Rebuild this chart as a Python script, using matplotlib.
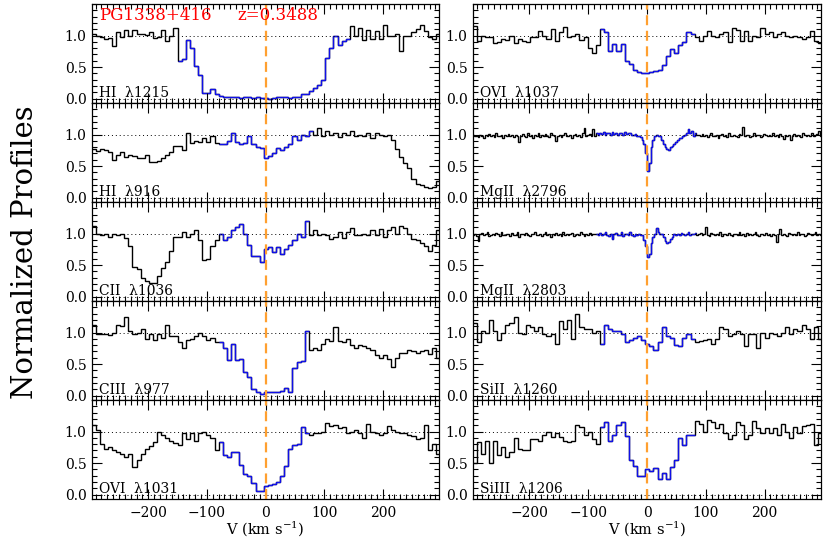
import numpy as np
import matplotlib
matplotlib.use("Agg")
import matplotlib.pyplot as plt
import matplotlib.transforms as mtransforms
from matplotlib.ticker import MultipleLocator

plt.rcParams['font.family'] = ['DejaVu Serif']
plt.rcParams['mathtext.fontset'] = 'dejavuserif'

# velocity binning (km/s): first bin edge and bin width
v_start = -297.0
dv_cos = 7.0     # UV spectra
dv_mg = 3.0      # optical MgII spectra

# normalized flux, one value per bin
hi1215 = [1.03, 0.99, 0.97, 0.94, 0.96, 0.83, 1.05, 0.98, 1.08, 1.00, 1.08, 1.02, 1.03, 1.01, 1.05, 0.96, 0.98, 1.08, 0.92, 1.00, 1.12,
          0.60, 0.62, 0.93, 0.80, 0.52, 0.38, 0.09, 0.09, 0.15, 0.08, 0.04, 0.03, 0.02, 0.02, 0.02, 0.01, 0.02, 0.02, 0.01, 0.02, 0.01, 0.01,
          0.00, 0.01, 0.02, 0.03, 0.03, 0.01, 0.02, 0.02, 0.07, 0.08, 0.12, 0.17, 0.22, 0.30, 0.65, 0.80, 1.00, 0.85, 0.91, 0.95,
          1.15, 1.00, 1.12, 0.93, 1.08, 0.95, 1.07, 0.95, 1.17, 1.00, 1.00, 1.02, 0.75, 1.00, 1.00, 1.05, 1.10, 1.17, 1.07, 0.98, 0.95, 1.02]
hi916 = [0.77, 0.74, 0.77, 0.75, 0.72, 0.60, 0.68, 0.72, 0.65, 0.67,
         0.66, 0.63, 0.62, 0.68, 0.57, 0.56, 0.58, 0.62, 0.67, 0.72,
         0.82, 0.82, 0.75, 1.02, 0.87, 0.90, 0.88, 0.95, 0.88, 0.97,
         0.87, 0.85, 0.85, 0.90, 1.02, 0.88, 0.85, 0.87, 0.97, 0.85,
         0.80, 0.78, 0.62, 0.66, 0.70, 0.78, 0.75, 0.80, 0.85, 0.98,
         0.92, 1.00, 0.98, 1.05, 1.00, 1.10, 0.98, 1.05, 1.00, 1.03,
         0.96, 1.02, 1.00, 1.05, 0.97, 1.00, 0.98, 1.03, 0.95, 1.02,
         1.00, 0.97, 1.00, 0.92, 0.77, 0.65, 0.55, 0.47, 0.30, 0.22,
         0.20, 0.17, 0.15, 0.17, 0.27]
cii1036 = [1.12, 1.00, 0.98, 1.00, 0.95, 1.00, 0.98, 1.00, 0.93, 0.80,
           0.47, 0.43, 0.30, 0.25, 0.22, 0.22, 0.32, 0.45, 0.55, 0.72,
           0.94, 0.95, 1.03, 0.95, 1.00, 1.05, 0.90, 0.58, 0.60, 0.80,
           0.90, 1.00, 0.90, 0.95, 1.05, 1.10, 1.15, 1.00, 0.82, 0.65,
           0.65, 0.55, 0.75, 0.78, 0.70, 0.78, 0.68, 0.75, 0.82, 0.90,
           1.00, 0.95, 1.20, 0.97, 1.05, 0.98, 1.00, 0.98, 0.92, 0.95,
           1.03, 0.93, 1.02, 1.08, 0.97, 0.97, 1.00, 0.97, 1.05, 0.98,
           1.07, 0.95, 1.05, 1.10, 1.00, 1.12, 1.08, 1.00, 0.92, 0.90,
           0.85, 0.80, 0.72, 0.82, 1.05]
ciii977 = [1.12, 0.97, 0.97, 0.98, 0.96, 1.00, 1.12, 1.10, 1.25, 1.02,
           0.98, 1.00, 1.05, 0.90, 0.98, 0.88, 0.97, 0.92, 1.12, 0.95,
           0.95, 0.85, 0.75, 0.88, 0.90, 0.95, 1.00, 0.95, 0.88, 0.92,
           0.85, 0.85, 0.75, 0.57, 0.82, 0.57, 0.58, 0.38, 0.30, 0.10,
           0.06, 0.03, 0.06, 0.05, 0.05, 0.05, 0.08, 0.12, 0.06, 0.43,
           0.53, 0.55, 1.02, 0.72, 0.75, 0.73, 0.82, 0.90, 0.87, 1.08,
           0.87, 0.85, 0.90, 0.80, 0.75, 0.80, 0.78, 0.75, 0.73, 0.65,
           0.60, 0.65, 0.58, 0.45, 0.60, 0.68, 0.68, 0.72, 0.70, 0.67,
           0.70, 0.72, 0.66, 0.75, 0.60]
ovi1031 = [1.10, 1.02, 0.80, 0.72, 0.75, 0.70, 0.67, 0.65, 0.60, 0.65,
           0.43, 0.55, 0.65, 0.72, 0.77, 0.83, 1.00, 0.95, 0.90, 0.85,
           0.82, 0.78, 0.97, 0.88, 0.97, 0.85, 0.98, 1.00, 0.95, 0.90,
           0.70, 0.83, 0.63, 0.60, 0.67, 0.67, 0.47, 0.32, 0.30, 0.18,
           0.05, 0.05, 0.13, 0.15, 0.17, 0.20, 0.30, 0.45, 0.72, 0.78,
           0.80, 1.07, 0.97, 0.95, 0.97, 0.98, 1.00, 1.13, 1.08, 1.10,
           1.05, 1.07, 0.97, 1.00, 1.02, 0.97, 0.90, 1.12, 1.00, 0.97,
           0.95, 0.98, 1.08, 1.02, 1.00, 0.98, 0.97, 0.95, 0.93, 0.88,
           0.90, 1.10, 0.70, 0.80, 0.65]
ovi1037 = [1.15, 0.92, 1.00, 0.97, 0.98, 0.88, 0.90, 0.95, 0.93, 1.00,
           0.88, 0.95, 0.92, 0.90, 0.97, 0.98, 1.07, 1.00, 0.95, 1.10,
           0.92, 1.05, 1.13, 0.98, 1.00, 1.03, 0.93, 0.97, 0.80, 0.73,
           0.85, 1.10, 1.05, 0.75, 0.87, 0.75, 0.87, 0.60, 0.55, 0.45,
           0.42, 0.40, 0.40, 0.42, 0.43, 0.45, 0.53, 0.68, 0.78, 0.72,
           0.85, 0.90, 1.05, 1.02, 0.97, 0.92, 1.00, 1.07, 1.00, 0.97,
           1.02, 1.05, 0.90, 1.12, 1.08, 0.92, 1.07, 0.92, 1.00, 0.98,
           1.12, 1.03, 1.05, 0.98, 1.02, 1.05, 1.00, 0.97, 1.00, 0.97,
           0.95, 0.97, 1.07, 0.92, 0.88]
mgii2796 = [0.99, 0.97, 0.98, 0.96, 1.00, 0.97, 0.95, 0.99, 0.98, 1.01, 0.97, 0.99, 0.96, 1.02, 0.98, 0.97, 1.00, 0.95, 0.99, 0.98,
            1.01, 0.97, 0.99, 0.96, 1.00, 0.98, 0.88, 0.97, 1.01, 0.98, 0.96, 1.02, 0.97, 0.99, 0.95, 1.00, 0.98, 1.03, 0.96, 0.99,
            0.97, 1.01, 0.98, 0.96, 1.02, 0.99, 0.97, 0.90, 0.98, 1.00, 0.96, 0.99, 1.03, 0.97, 0.98, 1.00, 0.95, 0.99, 1.01, 0.97,
            1.00, 0.96, 1.02, 1.10, 0.97, 0.99, 1.01, 0.98, 1.09, 0.98,
            1.02, 1.00, 1.03, 1.01, 1.04, 0.99, 1.02, 1.03, 1.00, 1.04, 1.01, 1.02, 0.99, 1.03, 1.02, 1.00, 1.04, 1.01, 1.03, 1.02, 1.00,
            0.99, 1.01, 0.98, 0.97, 0.96,
            0.92, 0.85, 0.70, 0.42, 0.55, 0.80, 0.92, 0.98, 1.00, 0.97, 0.98, 0.92, 0.85, 0.80, 0.77, 0.76,
            0.80, 0.82, 0.85, 0.88, 0.92, 0.95, 0.94, 0.97, 1.00, 1.03, 1.08, 1.02, 1.05, 0.98, 1.02, 1.00,
            0.99, 0.97, 1.01, 0.98, 1.00, 0.96, 0.99, 1.02, 0.97, 0.98, 1.00, 0.95, 0.99, 1.01, 0.97, 0.99, 0.96, 1.02, 0.98, 0.97,
            1.00, 0.98, 0.96, 1.01, 0.99, 1.12, 0.97, 0.99, 1.00, 0.96, 0.98, 1.02, 0.97, 0.99, 1.00, 0.96, 0.98, 1.01, 0.99, 0.97,
            1.00, 0.98, 1.02, 0.97, 0.99, 0.96, 1.01, 0.98, 0.93, 1.00, 0.97, 0.99, 0.92, 0.98, 1.01, 0.97, 1.00, 0.98, 0.96, 1.02,
            0.99, 0.97, 1.00, 0.98, 1.03, 0.97, 0.99, 1.01, 1.06, 0.98]
mgii2803 = [0.98, 1.00, 0.96, 0.88, 0.99, 1.01, 0.97, 0.99, 1.02, 0.96, 0.98, 1.00, 0.97, 1.01, 0.99, 0.96, 1.02, 0.98, 0.97, 1.00,
            0.99, 0.96, 1.01, 0.98, 0.97, 1.02, 0.95, 0.99, 1.00, 0.97, 1.01, 0.98, 0.96, 1.00, 0.99, 1.03, 0.97, 0.98, 1.00, 0.96,
            0.99, 1.02, 0.97, 0.99, 0.95, 1.00, 0.98, 1.01, 0.97, 0.99, 0.96, 1.02, 0.98, 1.00, 0.97, 0.99, 1.01, 0.96, 0.98, 1.00,
            0.97, 1.02, 0.99, 0.96, 1.00, 0.98, 1.01, 0.97, 0.99, 1.00,
            1.00, 0.98, 1.01, 0.97, 0.99, 1.02, 0.98, 0.96, 1.00, 0.92, 0.99, 1.01, 0.97, 0.98, 1.02, 0.96, 0.99, 1.00, 0.97, 1.03,
            0.98, 0.96, 1.00, 0.98, 0.99, 0.97,
            0.97, 0.90, 0.80, 0.62, 0.68, 0.85, 0.95, 1.00, 1.08, 1.02, 0.99, 1.00, 0.95, 0.88, 0.85, 0.87,
            0.92, 0.95, 0.99, 0.97, 1.00, 0.98, 1.01, 0.99, 0.97, 1.00, 1.02, 0.98, 1.00, 0.99, 1.01, 0.98,
            0.99, 1.01, 0.97, 1.00, 1.10, 0.98, 0.96, 1.01, 0.99, 0.97, 1.00, 0.98, 1.02, 0.96, 0.99, 1.00, 0.97, 1.01, 0.98, 0.96,
            1.00, 0.99, 0.97, 1.02, 0.98, 0.99, 0.96, 1.01, 0.98, 1.00, 0.97, 0.99, 1.02, 0.98, 0.96, 1.00, 0.99, 0.97, 1.01, 0.98,
            0.99, 0.96, 1.00, 0.98, 0.86, 0.99, 1.07, 0.97, 1.00, 0.98, 0.96, 1.01, 0.99, 0.97, 1.00, 0.98, 1.02, 0.97, 0.99, 1.00,
            0.96, 0.98, 1.01, 0.99, 0.97, 1.00, 1.02, 0.98, 0.99, 0.97]
sii1260 = [1.15, 0.85, 1.02, 1.00, 1.20, 1.02, 0.88, 1.00, 1.12, 1.15,
           1.25, 1.00, 0.98, 1.12, 1.08, 1.02, 1.08, 0.98, 0.95, 0.98,
           0.82, 1.18, 1.05, 1.20, 0.90, 1.30, 1.08, 1.05, 1.05, 1.00,
           1.02, 0.82, 1.12, 1.05, 1.02, 1.02, 0.98, 0.85, 0.88, 0.92,
           0.95, 0.88, 0.82, 0.78, 0.72, 0.85, 1.08, 0.95, 0.92, 0.80,
           0.78, 0.92, 0.98, 0.90, 0.85, 0.87, 0.88, 0.90, 0.82, 0.90,
           1.08, 1.05, 0.95, 0.97, 1.02, 0.98, 0.78, 0.97, 0.98, 0.75,
           1.00, 0.92, 1.00, 0.97, 0.95, 1.00, 1.08, 0.97, 1.05, 1.02,
           1.12, 1.05, 0.90, 1.08, 0.90]
siiii1206 = [0.50, 0.83, 0.65, 0.85, 0.50, 0.85, 0.63, 0.75, 0.60, 0.67,
             0.90, 0.72, 0.70, 0.70, 0.88, 0.88, 0.85, 0.95, 1.00, 0.92,
             0.97, 0.92, 0.85, 0.83, 0.85, 1.10, 1.07, 0.95, 1.00, 0.88,
             0.80, 1.07, 1.15, 0.85, 0.95, 1.10, 1.15, 0.93, 0.55, 0.45,
             0.30, 0.30, 0.40, 0.38, 0.42, 0.25, 0.35, 0.25, 0.43, 0.55,
             0.90, 0.78, 0.95, 0.95, 1.17, 1.12, 1.00, 1.18, 1.15, 1.05,
             1.12, 0.98, 0.88, 0.95, 1.15, 1.10, 0.88, 0.95, 1.17, 1.05,
             0.97, 1.05, 0.97, 1.05, 0.95, 1.12, 1.00, 0.90, 1.07, 0.97,
             1.08, 1.10, 1.12, 0.78, 0.98]

left_labels = ['HI  λ1215', 'HI  λ916', 'CII  λ1036', 'CIII  λ977', 'OVI  λ1031']
right_labels = ['OVI  λ1037', 'MgII  λ2796', 'MgII  λ2803', 'SiII  λ1260', 'SiIII  λ1206']
left_flux = [hi1215, hi916, cii1036, ciii977, ovi1031]
right_flux = [ovi1037, mgii2796, mgii2803, sii1260, siiii1206]
left_dv = [dv_cos] * 5
right_dv = [dv_cos, dv_mg, dv_mg, dv_cos, dv_cos]
# integration window (km/s) drawn in blue
left_win = [(-153, 143), (-82, 80), (-82, 77), (-79, 76), (-79, 76)]
right_win = [(-82, 83), (-88, 84), (-88, 84), (-79, 83), (-82, 83)]

fig = plt.figure(figsize=(8.3, 5.41), dpi=100)
W, H = 830.0, 541.0
col_x = [(92, 347), (473, 348)]
top, row_h = 4, 99

columns = [(left_labels, left_flux, left_dv, left_win),
           (right_labels, right_flux, right_dv, right_win)]

for c, (labels, fluxes, dvs, wins) in enumerate(columns):
    x0, w = col_x[c]
    for r in range(5):
        ax = fig.add_axes([x0 / W, 1 - (top + (r + 1) * row_h) / H, w / W, row_h / H])
        f = np.array(fluxes[r])
        edges = v_start + dvs[r] * np.arange(len(f) + 1)
        cen = 0.5 * (edges[:-1] + edges[1:])
        ax.stairs(f, edges, baseline=None, color='black', lw=1.0)
        lo, hi = wins[r]
        idx = np.where((cen > lo) & (cen < hi))[0]
        i0, i1 = idx[0], idx[-1]
        ax.stairs(f[i0:i1 + 1], edges[i0:i1 + 2], baseline=None, color='#1010e8', lw=1.0)

        ax.axhline(1.0, color='black', ls=(0, (1, 3)), lw=0.7)
        ax.axhline(0.0, color='black', ls=(0, (1, 3)), lw=0.7)
        ax.axvline(0.0, color='#ffa030', ls=(0, (4.5, 2.5)), lw=1.6)

        ax.set_xlim(-296, 296)
        ax.set_ylim(-0.07, 1.5)
        ax.set_yticks([0.0, 0.5, 1.0])
        ax.set_yticklabels(['0.0', '0.5', '1.0'])
        ax.xaxis.set_major_locator(MultipleLocator(100))
        ax.xaxis.set_minor_locator(MultipleLocator(10))
        ax.yaxis.set_minor_locator(MultipleLocator(0.1))
        ax.tick_params(which='both', direction='in', top=True, right=True,
                       width=0.8, labelsize=10, color='black')
        ax.tick_params(which='major', length=7, pad=4)
        ax.tick_params(which='minor', length=3.5)
        ax.tick_params(axis='x', labelbottom=(r == 4), pad=5)
        for s in ax.spines.values():
            s.set_linewidth(0.9)

        trans = mtransforms.blended_transform_factory(ax.transAxes, ax.transData)
        ax.text(0.02, 0.03, labels[r], transform=trans, fontsize=10,
                ha='left', va='baseline')
        if r == 4:
            ax.set_xlabel('V (km s$^{-1}$)', fontsize=10.5, labelpad=-1)
        if c == 0 and r == 0:
            ax.text(0.02, 0.88, 'PG1338+416', transform=ax.transAxes, color='red',
                    fontsize=12, ha='left', va='center')
            ax.text(0.418, 0.88, 'z=0.3488', transform=ax.transAxes, color='red',
                    fontsize=12, ha='left', va='center')

fig.text(25 / W, 1 - 252 / H, 'Normalized Profiles', rotation=90, fontsize=21,
         ha='center', va='center')

fig.savefig('out.png', dpi=100)
